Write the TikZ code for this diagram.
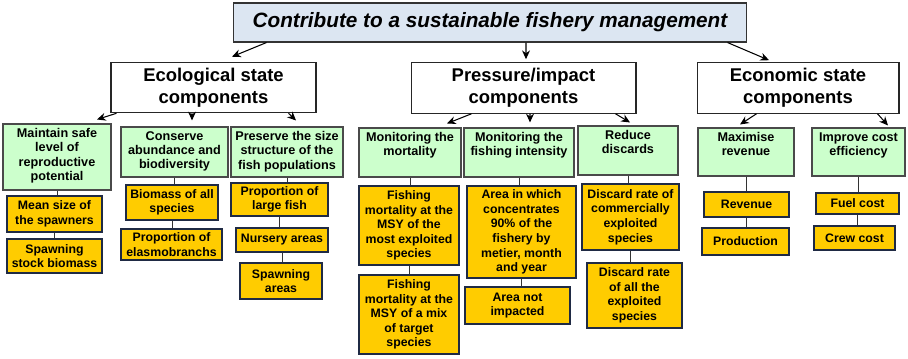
\documentclass[tikz,border=0pt]{standalone}
\usepackage{fontspec}
\setmainfont{Liberation Sans}
\usepackage{tikz}
\usetikzlibrary{positioning, calc, arrows.meta}
\definecolor{titlefill}{HTML}{DCE6F2}
\definecolor{goalfill}{HTML}{CCFFCC}
\definecolor{goalborder}{HTML}{4A4A4A}
\definecolor{indfill}{HTML}{FFCC00}
\definecolor{indborder}{HTML}{1F2A44}
\definecolor{darktext}{HTML}{000000}
\newcommand{\goaltext}[3]{\parbox[c][#2][t]{#1}{\centering\vspace*{2.5pt}#3}}

\begin{document}
\begin{tikzpicture}[x=0.02cm, y=-0.02cm,
    title/.style={draw=black!80, fill=titlefill, semithick, font=\fontsize{11.8}{13}\selectfont\bfseries\itshape},
    head/.style={draw=black!85, fill=white, semithick, align=center, font=\fontsize{10.5}{12.3}\selectfont\bfseries},
    goal/.style={draw=goalborder, fill=goalfill, semithick, inner sep=0pt, font=\fontsize{7.2}{8.1}\selectfont\bfseries},
    ind/.style={draw=indborder, fill=indfill, line width=0.8pt, inner sep=1pt, align=center, font=\fontsize{7}{8.3}\selectfont\bfseries},
    arr/.style={-{Stealth[length=5pt, width=4.5pt]}, semithick, color=darktext},
    link/.style={draw=black!80}]
      % Frame of the picture
      \useasboundingbox (0,0) rectangle (908,358);

      % Overall objective
      \node[title, minimum width=10.28cm, minimum height=0.78cm] (goal) at (490,22.5) {Contribute to a sustainable fishery management};

      % Components
      \node[head, minimum width=4.1cm, minimum height=1.0cm] (eco) at (213.5,87.5) {Ecological state\\components};
      \node[head, minimum width=4.5cm, minimum height=1.0cm] (press) at (523.5,88) {Pressure/impact\\components};
      \node[head, minimum width=4.04cm, minimum height=1.0cm] (econ) at (798,88) {Economic state\\components};

      % Operational objectives
      \node[goal] (repro) at (57,157) {\goaltext{2.16cm}{1.32cm}{Maintain safe\\level of\\reproductive\\potential}};
      \node[goal] (biodiv) at (174.5,152) {\goaltext{2.14cm}{1.0cm}{Conserve\\abundance and\\biodiversity}};
      \node[goal] (sizestr) at (287,152) {\goaltext{2.24cm}{1.0cm}{Preserve the size\\structure of the\\fish populations}};
      \node[goal] (mort) at (410,152.5) {\goaltext{2.04cm}{0.98cm}{Monitoring the\\mortality}};
      \node[goal] (intens) at (519,152.5) {\goaltext{2.2cm}{0.98cm}{Monitoring the\\fishing intensity}};
      \node[goal] (disc) at (628,150.5) {\goaltext{2.0cm}{0.98cm}{Reduce\\discards}};
      \node[goal] (rev) at (746,152) {\goaltext{1.92cm}{0.96cm}{Maximise\\revenue}};
      \node[goal] (cost) at (858.5,152) {\goaltext{1.86cm}{0.96cm}{Improve cost\\efficiency}};

      % Indicators
      \node[ind, minimum width=1.9cm, minimum height=0.72cm] (meansize) at (54.5,214) {Mean size of\\the spawners};
      \node[ind, minimum width=1.9cm, minimum height=0.68cm] (spawnstock) at (54.5,256) {Spawning\\stock biomass};
      \node[ind, minimum width=1.84cm, minimum height=0.7cm] (biomass) at (172,202.5) {Biomass of all\\species};
      \node[ind, minimum width=2.02cm, minimum height=0.62cm] (elasmo) at (171.5,244.5) {Proportion of\\elasmobranchs};
      \node[ind, minimum width=1.94cm, minimum height=0.66cm] (largefish) at (279.5,199.5) {Proportion of\\large fish};
      \node[ind, minimum width=1.84cm, minimum height=0.48cm] (nursery) at (282,240) {Nursery areas};
      \node[ind, minimum width=1.64cm, minimum height=0.72cm] (spawnarea) at (281,281) {Spawning\\areas};
      \node[ind, minimum width=2.0cm, minimum height=1.58cm] (fmsy) at (409,225.5) {Fishing\\mortality at the\\MSY of the\\most exploited\\species};
      \node[ind, minimum width=2.0cm, minimum height=1.58cm] (fmix) at (409,314.5) {Fishing\\mortality at the\\MSY of a mix\\of target\\species};
      \node[ind, minimum width=2.18cm, minimum height=1.84cm] (area) at (521.5,232) {Area in which\\concentrates\\90\% of the\\fishery by\\metier, month\\and year};
      \node[ind, minimum width=2.1cm, minimum height=0.74cm] (notimp) at (517.5,305.5) {Area not\\impacted};
      \node[ind, minimum width=1.94cm, minimum height=1.32cm] (dcomm) at (630.5,217) {Discard rate of\\commercially\\exploited\\species};
      \node[ind, minimum width=1.9cm, minimum height=1.3cm] (dall) at (634.5,295.5) {Discard rate\\of all the\\exploited\\species};
      \node[ind, minimum width=1.7cm, minimum height=0.5cm] (revenue) at (746.5,204.5) {Revenue};
      \node[ind, minimum width=1.74cm, minimum height=0.54cm] (prod) at (745.5,241.5) {Production};
      \node[ind, minimum width=1.66cm, minimum height=0.42cm] (fuel) at (857.5,203.5) {Fuel cost};
      \node[ind, minimum width=1.62cm, minimum height=0.48cm] (crew) at (854.5,238) {Crew cost};

      % Arrows from the objective to the components
      \draw[arr] ($(goal.south west)+(34,0)$) -- ($(eco.north)+(18.5,-5)$);
      \draw[arr] ($(goal.south)+(36,0)$) -- ($(press.north)+(2.5,-3)$);
      \draw[arr] ($(goal.south east)+(-20,0)$) -- ($(econ.north)+(-29,-2)$);

      % Arrows from the components to the objectives
      \draw[arr] ($(eco.south west)+(6,0)$) -- ($(repro.north)+(40,-4)$);
      \draw[arr] ($(eco.south)+(-21.5,0)$) -- ($(biodiv.north)+(17.5,-6)$);
      \draw[arr] ($(eco.south east)+(-28,0)$) -- ($(sizestr.north)+(9,-6)$);
      \draw[arr] ($(press.south west)+(61,0)$) -- ($(mort.north)+(37,-4)$);
      \draw[arr] ($(press.south)+(6.5,0)$) -- ($(intens.north)+(11,-5)$);
      \draw[arr] ($(press.south east)+(-21,0)$) -- ($(disc.north)+(2,-3)$);
      \draw[arr] ($(econ.south west)+(60,0)$) -- ($(rev.north)+(-6,-3)$);
      \draw[arr] ($(econ.south east)+(-22,0)$) -- ($(cost.north)+(29.5,-2)$);

      % Links to the indicators
      \draw[link] (repro.south) -- (repro.south |- meansize.north);
      \draw[link] (meansize.south) -- (meansize.south |- spawnstock.north);
      \draw[link] (biodiv.south) -- (biodiv.south |- biomass.north);
      \draw[link] (biomass.south) -- (biomass.south |- elasmo.north);
      \draw[link] (sizestr.south) -- (sizestr.south |- largefish.north);
      \draw[link] (largefish.south) -- (largefish.south |- nursery.north);
      \draw[link] (nursery.south) -- (nursery.south |- spawnarea.north);
      \draw[link] (mort.south) -- (mort.south |- fmsy.north);
      \draw[link] (fmsy.south) -- (fmsy.south |- fmix.north);
      \draw[link] (intens.south) -- (intens.south |- area.north);
      \draw[link] (area.south) -- (area.south |- notimp.north);
      \draw[link] (disc.south) -- (disc.south |- dcomm.north);
      \draw[link] (dcomm.south) -- (dcomm.south |- dall.north);
      \draw[link] (rev.south) -- (rev.south |- revenue.north);
      \draw[link] (revenue.south) -- (revenue.south |- prod.north);
      \draw[link] (cost.south) -- (cost.south |- fuel.north);
      \draw[link] (fuel.south) -- (fuel.south |- crew.north);
\end{tikzpicture}
\end{document}
